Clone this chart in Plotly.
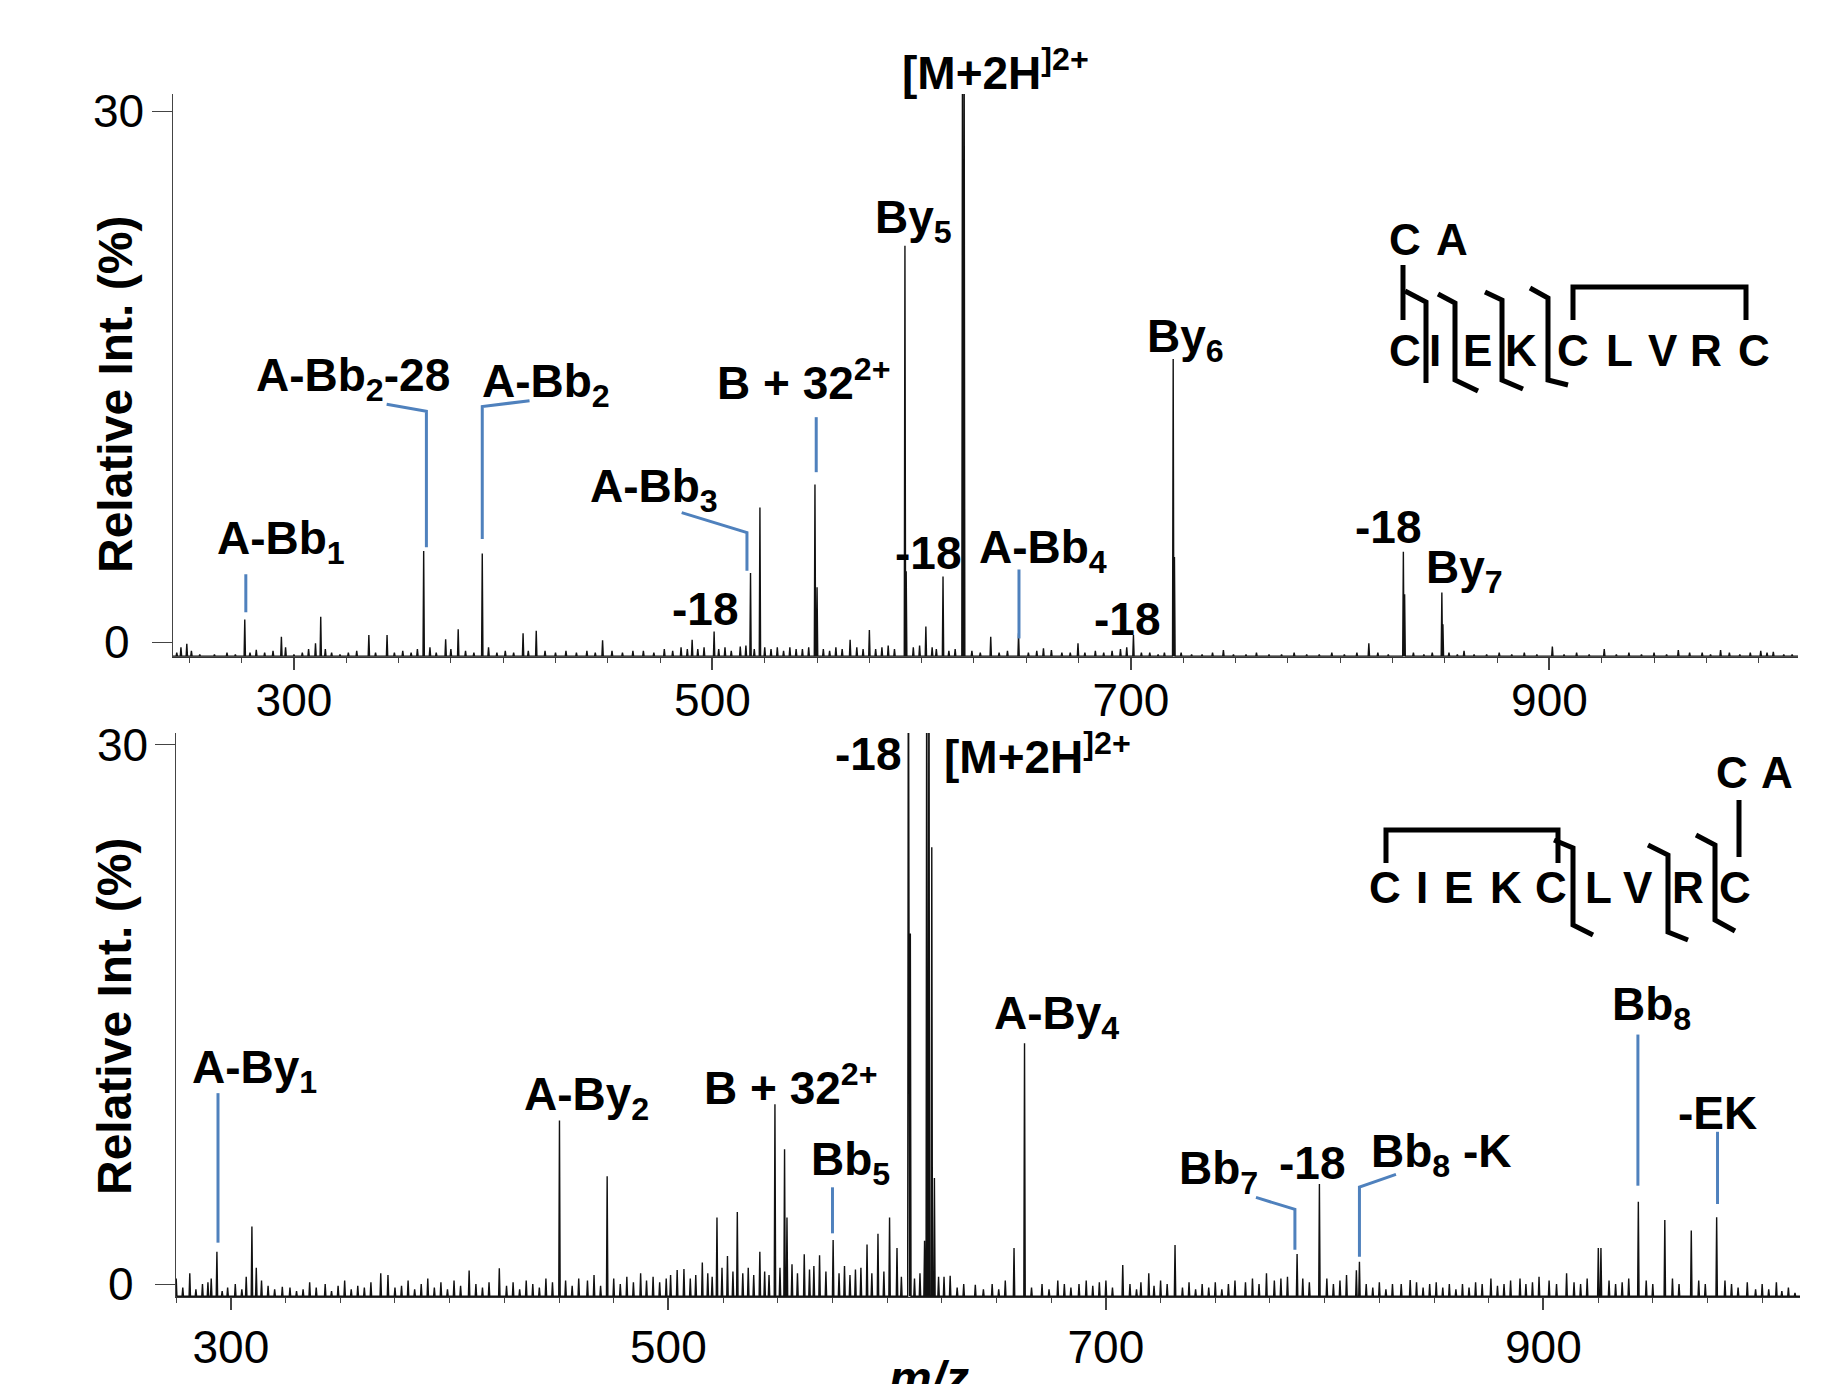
import plotly.graph_objects as go

W, H = 1837, 1384
FONT = "Liberation Sans, Arial, Helvetica, sans-serif"
BLUE = "#4F81BD"

# ---------------- data: upper spectrum ----------------
top_peak_mz = [276.5, 312.8, 362.0, 390.0, 518.2, 522.7, 549.0, 550.0, 592.0, 592.6,
               610.2, 619.5, 620.3, 646.3, 701.2, 720.2, 720.8, 830.2, 830.8, 848.6, 849.1]
top_peak_int = [1.27, 1.43, 5.14, 5.0, 3.9, 7.6, 8.9, 3.1, 22.4, 4.0,
                3.7, 34.0, 34.0, 0.5, 0.4, 16.0, 4.8, 5.1, 2.7, 2.8, 1.0]
top_noise_mz = [244, 246, 248.8, 251, 255, 262, 268, 272, 279, 282, 286, 290, 294, 296, 300, 304,
                307, 310.3, 315, 318, 322, 326, 330, 335.8, 339, 344.5, 348, 352, 356, 359, 365,
                368, 372.5, 375, 378.5, 382, 386, 393, 397, 401, 405, 409.5, 412, 415.8, 420,
                425, 430, 435, 440, 444, 447.5, 452, 457, 462, 467, 472, 477, 481, 485, 488,
                490.3, 493, 496, 500.8, 503, 506, 509, 513.3, 516, 520, 525, 528, 531, 534, 537,
                540, 543, 546, 553, 556, 559, 562, 565.8, 569, 572, 575, 578, 581, 584, 587,
                596, 599, 602, 605, 607, 613, 616, 624, 628, 633, 637, 641, 651, 655, 658.2,
                662, 667, 671, 674.7, 678, 683, 687, 691, 695, 698, 705, 709, 713, 716, 724,
                729, 734, 739, 744.2, 749, 755, 760, 766, 772, 778, 784, 790, 796, 802, 808,
                813.7, 818, 823, 835, 840, 844, 852, 856, 859.2, 864, 870, 876, 882, 888, 894,
                901.4, 907, 913, 919, 926.2, 932, 938, 944, 950, 956, 961.6, 967, 973, 977,
                981.8, 986, 991, 996, 1001, 1004, 1007, 1012, 1016]
top_noise_int = [-0.6, -0.3, -0.1, -0.5, -0.7, -0.7, -0.6, -0.7, -0.6, -0.44, -0.6, -0.5, 0.3, -0.3, -0.7, -0.6,
                 -0.4, -0.07, -0.4, -0.6, -0.7, -0.6, -0.5, 0.4, -0.6, 0.4, -0.6, -0.5, -0.6, -0.4, -0.3,
                 -0.6, 0.15, -0.4, 0.72, -0.5, -0.6, -0.3, -0.6, -0.5, -0.6, 0.49, -0.5, 0.64, -0.5,
                 -0.6, -0.5, -0.6, -0.5, -0.6, 0.1, -0.5, -0.6, -0.5, -0.5, -0.6, -0.4, -0.5, -0.3, -0.4,
                 0.12, -0.4, -0.3, 0.59, -0.4, -0.3, -0.5, -0.26, -0.2, -0.4, -0.3, -0.4, -0.3, -0.5, -0.3,
                 -0.4, -0.4, -0.3, -0.4, -0.5, -0.3, -0.4, 0.12, -0.3, -0.4, 0.68, -0.4, -0.3, -0.2, -0.4,
                 -0.3, -0.2, 0.87, -0.3, -0.4, -0.5, -0.4, -0.5, -0.6, 0.3, -0.6, -0.5, -0.6, -0.5, -0.36,
                 -0.45, -0.6, -0.6, -0.08, -0.6, -0.5, -0.6, -0.5, -0.4, -0.3, -0.6, -0.6, -0.7, -0.6, -0.6,
                 -0.7, -0.7, -0.6, -0.46, -0.7, -0.7, -0.6, -0.7, -0.7, -0.6, -0.7, -0.7, -0.6, -0.7, -0.6,
                 -0.08, -0.6, -0.7, -0.6, -0.7, -0.6, -0.6, -0.7, -0.5, -0.7, -0.7, -0.6, -0.7, -0.6, -0.7,
                 -0.26, -0.7, -0.6, -0.7, -0.4, -0.7, -0.6, -0.7, -0.6, -0.7, -0.45, -0.6, -0.6, -0.7,
                 -0.45, -0.6, -0.7, -0.6, -0.5, -0.6, -0.55, -0.7, -0.7]

# ---------------- data: lower spectrum ----------------
bot_peak_mz = [293.6, 309.6, 450.2, 472.0, 522.2, 531.5, 548.7, 553.1, 554.2, 575.3, 590.8, 595.8,
               601.1, 604.5, 609.7, 610.6, 617.1, 618.1, 619.1, 620.4, 621.6, 658.0, 662.8, 707.7,
               731.6, 787.4, 797.6, 815.9, 925.1, 926.3, 943.4, 955.5, 967.6, 979.2]
bot_peak_int = [1.8, 3.2, 9.1, 6.0, 3.7, 4.0, 10.0, 7.5, 3.7, 2.45, 2.2, 2.8,
                3.7, 2.0, 40.0, 19.5, 2.4, 40.0, 40.0, 24.3, 5.9, 2.0, 13.4, 1.06,
                2.17, 1.67, 5.56, 1.24, 2.0, 2.0, 4.58, 3.56, 2.97, 3.71]
bot_noise_mz = [275, 278, 281.2, 284, 287, 289.5, 291, 296, 298.5, 302, 305, 307, 311.6, 314, 317, 320,
                323.5, 327, 330, 333, 336, 339, 343.1, 346, 349, 352, 355, 358, 361, 364, 368.5, 371.8,
                375, 378, 381, 384, 387, 390, 393, 396, 399, 402, 405, 408.9, 412, 415, 418, 422.7,
                426, 429, 432, 435, 438, 441, 444, 447, 453, 456, 459, 463, 466, 469, 475, 478, 481,
                484, 487.3, 490, 493, 496, 499, 501, 504, 507.1, 510, 512.5, 515.5, 518, 520, 524.5,
                527, 529.5, 534, 536.5, 539, 541.8, 544, 546, 551, 556.5, 559, 562.1, 564.5, 566.5,
                569.1, 572, 578, 580.5, 583, 585.5, 588, 593, 598.5, 606.5, 612.5, 615, 623.5, 626,
                628.8, 632, 635, 640.3, 644, 648, 651, 654, 666, 670.8, 674, 678, 681, 684, 687.7,
                691, 694, 697, 700, 703, 711, 714, 716, 719.6, 722, 725, 728, 735, 738, 741, 744,
                747, 750, 753, 756, 759, 763.8, 767, 770, 773.4, 777, 780, 783, 790, 793, 801, 804,
                807, 810, 814.5, 819, 822, 825, 828, 831, 835, 839.1, 842, 845, 848, 851, 854, 857,
                860, 863, 866, 869, 872, 876, 879, 882, 885, 889.3, 892, 895, 898, 902.6, 906, 910.6,
                914, 917, 920, 930, 933, 936, 939, 947, 950, 959, 962, 971, 974, 983, 986, 989,
                993.2, 997, 1000, 1003, 1006.5, 1009, 1012, 1015]
bot_noise_int = [0.3, -0.2, 0.6, -0.3, 0.0, 0.1, 0.3, -0.4, -0.2, 0.0, -0.3, 0.4, 0.9, 0.2, -0.1, -0.3,
                 -0.15, -0.2, -0.4, -0.3, 0.1, -0.2, 0.0, -0.4, -0.1, 0.2, -0.3, -0.1, -0.2, 0.1, 0.6, 0.5,
                 -0.2, -0.1, 0.2, -0.3, 0.0, 0.3, -0.2, 0.1, -0.3, 0.2, -0.1, 0.75, 0.0, -0.2, 0.1, 0.87,
                 -0.1, 0.1, -0.3, 0.2, 0.0, -0.2, 0.3, 0.1, 0.2, -0.1, 0.3, 0.2, 0.5, -0.1, 0.3, 0.0, 0.4,
                 0.1, 0.6, 0.2, 0.4, 0.1, 0.3, 0.5, 0.78, 0.83, 0.3, 0.5, 1.2, 0.6, 0.4, 0.9,
                 1.56, 0.7, 0.6, 0.9, 0.5, 1.8, 0.7, 0.5, 0.9, 1.1, 0.6, 1.66, 0.8, 1.0,
                 1.6, 0.7, 0.6, 1.0, 0.5, 0.8, 0.9, 0.6, 0.7, 0.4, 0.3, 0.6, 0.4, 0.4,
                 0.46, -0.2, 0.0, -0.05, -0.3, 0.0, -0.3, 0.2, -0.2, 0.0, -0.3, 0.2, 0.0, -0.2, 0.0,
                 0.2, -0.1, 0.1, 0.2, -0.2, 0.0, -0.3, 0.1, 0.6, -0.1, 0.2, 0.0, -0.2, 0.1, -0.3, 0.0,
                 -0.2, 0.1, -0.3, 0.0, 0.2, 0.1, 0.3, 0.0, 0.6, 0.2, 0.3, 0.4, 0.3, 0.1, 0.3, 0.0,
                 0.2, 0.5, 0.77, 0.0, -0.2, 0.1, -0.3, 0.0, 0.0, 0.22, 0.1, -0.2, 0.0, 0.1, -0.2, 0.0,
                 -0.3, 0.0, -0.2, 0.1, 0.0, 0.3, -0.1, 0.0, 0.2, 0.3, 0.0, 0.1, 0.4, 0.2, 0.0, 0.6,
                 0.1, 0.0, 0.3, 0.2, 0.0, 0.1, 0.3, 0.2, 0.0, 0.3, 0.0, 0.2, 0.0, 0.2, 0.0, -0.2,
                 0.1, -0.3, 0.0, -0.3, 0.1, -0.4, -0.2, -0.5]

x_tick_vals = [300, 500, 700, 900]
y_tick_vals = [0, 30]
y_tick_text = ["0", "30"]

# ---------------- labels ----------------
top_labels = ["A-Bb<sub>1</sub>", "A-Bb<sub>2</sub>-28", "A-Bb<sub>2</sub>", "B + 32<sup>2+</sup>",
              "A-Bb<sub>3</sub>", "-18", "By<sub>5</sub>", "-18",
              "A-Bb<sub>4</sub>", "-18", "By<sub>6</sub>", "-18", "By<sub>7</sub>"]
top_parent_label = "[M+2H<sup>]2+</sup>"
bot_labels = ["A-By<sub>1</sub>", "A-By<sub>2</sub>", "B + 32<sup>2+</sup>", "Bb<sub>5</sub>", "-18",
              "[M+2H<sup>]2+</sup>", "A-By<sub>4</sub>", "Bb<sub>7</sub>", "-18", "Bb<sub>8</sub> -K",
              "Bb<sub>8</sub>", "-EK"]
sequence = ["C", "I", "E", "K", "C", "L", "V", "R", "C"]
branch = ["C", "A"]

# label positions (m/z, intensity) -- layout only
top_label_pos = [(294.0, 5.69), (328.1, 14.9), (420.5, 14.57), (543.6, 14.8), (472.0, 8.6),
                 (496.6, 1.85), (596.3, 23.84), (603.0, 5.03), (657.9, 5.16),
                 (698.2, 1.32), (726.2, 17.08), (823.0, 6.49), (859.4, 4.04)]
top_parent_pos = (635.5, 70)  # m/z, pixel row
bot_label_pos = [(310.6, 11.9), (462.7, 10.36), (555.9, 11.1), (583.2, 6.77), (591.3, 29.5),
                 (668.9, 29.5), (677.5, 14.86), (751.4, 6.25), (794.3, 6.71), (853.2, 7.23),
                 (949.6, 15.38), (979.6, 9.51)]
top_leaders = [[(277.0, 3.83), (277.0, 1.68)],
               [(344.3, 13.44), (363.3, 13.04), (363.3, 5.36)],
               [(412.6, 13.64), (390.0, 13.31), (390.0, 5.82)],
               [(549.6, 12.71), (549.6, 9.6)],
               [(485.3, 7.31), (516.5, 6.18), (516.5, 4.03)],
               [(646.5, 4.1), (646.5, 0.2)]]
bot_leaders = [[(294.1, 10.62), (294.1, 2.3)],
               [(575.0, 5.38), (575.0, 2.82)],
               [(768.6, 4.82), (786.4, 4.15), (786.4, 1.9)],
               [(832.6, 6.1), (815.9, 5.4), (815.9, 1.52)],
               [(943.2, 13.88), (943.2, 5.47)],
               [(979.6, 8.47), (979.6, 4.45)]]

TOP_BASE, BOT_BASE = -0.80, -0.68
TOP_XR, BOT_XR = [242.2, 1018.8], [274.9, 1017.3]
TOP_YR, BOT_YR = [-0.848, 30.98], [-0.723, 30.66]

# page offset of the plot div inside the browser (default body margin)
OX, OY = 8, 8


def stick_xy(mz_a, int_a, mz_b, int_b, base, xr, hw=0.32):
    pts = sorted(list(zip(mz_a, int_a)) + list(zip(mz_b, int_b)))
    xs, ys = [xr[0]], [base]
    for m, h in pts:
        xs += [m - hw, m, m + hw]
        ys += [base, h, base]
    xs.append(xr[1])
    ys.append(base)
    return xs, ys


def PX(x):
    return (x - OX) / W


def PY(y):
    return 1 - (y - OY) / H


def P(x, y):
    return (PX(x), PY(y))


fig = go.Figure()
tx, ty = stick_xy(top_peak_mz, top_peak_int, top_noise_mz, top_noise_int, TOP_BASE, TOP_XR)
bx, by = stick_xy(bot_peak_mz, bot_peak_int, bot_noise_mz, bot_noise_int, BOT_BASE, BOT_XR)
fig.add_trace(go.Scatter(x=tx, y=ty, mode="lines", line=dict(color="#111111", width=1.4),
                         xaxis="x", yaxis="y", showlegend=False, hoverinfo="skip"))
fig.add_trace(go.Scatter(x=bx, y=by, mode="lines", line=dict(color="#111111", width=1.4),
                         xaxis="x2", yaxis="y2", showlegend=False, hoverinfo="skip"))

tickfont = dict(size=46, family=FONT, color="black")
common_x = dict(tickvals=x_tick_vals, ticks="outside", ticklen=12, tickwidth=1.5, tickcolor="#444",
                showline=True, linecolor="#333", linewidth=1.2, showgrid=False, zeroline=False,
                tickfont=tickfont, automargin=False,
                minor=dict(ticks="outside", ticklen=5, dtick=25, tick0=0, tickcolor="#444", tickwidth=1))
common_y = dict(tickvals=y_tick_vals, ticks="outside", ticklen=20, tickwidth=1, tickcolor="#444",
                showline=True, linecolor="#444", linewidth=1, showgrid=False, zeroline=False,
                showticklabels=False, automargin=False)

fig.update_layout(
    width=W, height=H, margin=dict(l=0, r=0, t=0, b=0, pad=0, autoexpand=False),
    paper_bgcolor="white", plot_bgcolor="white", showlegend=False,
    xaxis=dict(domain=[PX(173), PX(1798)], anchor="y", range=TOP_XR, ticklabelstandoff=-9, **common_x),
    yaxis=dict(domain=[PY(657), PY(94)], anchor="x", range=TOP_YR, **common_y),
    xaxis2=dict(domain=[PX(176), PX(1800)], anchor="y2", range=BOT_XR, ticklabelstandoff=-2, **common_x),
    yaxis2=dict(domain=[PY(1297), PY(733)], anchor="x2", range=BOT_YR, **common_y),
)

annots = []
shapes = []
lab_font = dict(size=46, family=FONT, color="black")
for txt, (x, y) in zip(top_labels, top_label_pos):
    annots.append(dict(text="<b>%s</b>" % txt, x=x, y=y, xref="x", yref="y", showarrow=False,
                       xanchor="center", yanchor="middle", font=lab_font))
annots.append(dict(text="<b>%s</b>" % top_parent_label, x=top_parent_pos[0],
                   y=PY(top_parent_pos[1]), xref="x", yref="paper",
                   showarrow=False, xanchor="center", yanchor="middle", font=lab_font))
for txt, (x, y) in zip(bot_labels, bot_label_pos):
    annots.append(dict(text="<b>%s</b>" % txt, x=x, y=y, xref="x2", yref="y2", showarrow=False,
                       xanchor="center", yanchor="middle", font=lab_font))

# y tick labels (centred, as in the original)
for yr, xc in (("y", [117, 118]), ("y2", [121, 122])):
    for v, t, x in zip(y_tick_vals, y_tick_text, xc):
        annots.append(dict(text=t, x=PX(x), y=v, xref="paper", yref=yr, showarrow=False,
                           xanchor="center", yanchor="middle", font=tickfont))


def poly_path(pts):
    return "M " + " L ".join("%g,%g" % p for p in pts)


for pts in top_leaders:
    shapes.append(dict(type="path", path=poly_path(pts), xref="x", yref="y",
                       line=dict(color=BLUE, width=3)))
for pts in bot_leaders:
    shapes.append(dict(type="path", path=poly_path(pts), xref="x2", yref="y2",
                       line=dict(color=BLUE, width=3)))

# axis titles
for yc in (395, 1017):
    annots.append(dict(text="<b>Relative Int. (%)</b>", x=PX(115), y=PY(yc), xref="paper",
                       yref="paper", showarrow=False, textangle=-90, xanchor="center",
                       yanchor="middle", font=dict(size=48, family=FONT, color="black")))
annots.append(dict(text="<b><i>m/z</i></b>", x=PX(929), y=PY(1378), xref="paper", yref="paper",
                   showarrow=False, xanchor="center", yanchor="middle",
                   font=dict(size=48, family=FONT, color="black")))

# sequence schematics
seq_font = dict(size=44, family=FONT, color="black")
top_seq_x = [1405, 1435, 1477, 1521, 1573, 1619, 1663, 1706, 1754]
bot_seq_x = [1385, 1422, 1458, 1506, 1551, 1598, 1638, 1688, 1735]
for ch, x in zip(sequence, top_seq_x):
    px, py = P(x, 351)
    annots.append(dict(text="<b>%s</b>" % ch, x=px, y=py, xref="paper", yref="paper",
                       showarrow=False, xanchor="center", yanchor="middle", font=seq_font))
for ch, x in zip(branch, [1405, 1452]):
    px, py = P(x, 240)
    annots.append(dict(text="<b>%s</b>" % ch, x=px, y=py, xref="paper", yref="paper",
                       showarrow=False, xanchor="center", yanchor="middle", font=seq_font))
for ch, x in zip(sequence, bot_seq_x):
    px, py = P(x, 887)
    annots.append(dict(text="<b>%s</b>" % ch, x=px, y=py, xref="paper", yref="paper",
                       showarrow=False, xanchor="center", yanchor="middle", font=seq_font))
for ch, x in zip(branch, [1732, 1777]):
    px, py = P(x, 772)
    annots.append(dict(text="<b>%s</b>" % ch, x=px, y=py, xref="paper", yref="paper",
                       showarrow=False, xanchor="center", yanchor="middle", font=seq_font))

top_strokes = [
    [(1403, 265), (1403, 320)],
    [(1405, 291), (1426, 302), (1426, 383)],
    [(1438, 294), (1455, 303), (1455, 380), (1478, 391)],
    [(1485, 292), (1502, 300), (1502, 380), (1523, 389)],
    [(1530, 288), (1548, 298), (1548, 380), (1568, 385)],
    [(1573, 320), (1573, 287), (1746, 287), (1746, 320)],
]
bot_strokes = [
    [(1386, 863), (1386, 830), (1558, 830), (1558, 863)],
    [(1739, 800), (1739, 857)],
    [(1554, 840), (1573, 848), (1573, 925), (1593, 935)],
    [(1648, 845), (1668, 855), (1668, 932), (1688, 940)],
    [(1696, 835), (1715, 845), (1715, 920), (1735, 931)],
]
for pts in top_strokes + bot_strokes:
    shapes.append(dict(type="path", path=poly_path([P(*p) for p in pts]), xref="paper",
                       yref="paper", line=dict(color="black", width=5)))

fig.update_layout(annotations=annots, shapes=shapes)
fig.write_html("out.html")
